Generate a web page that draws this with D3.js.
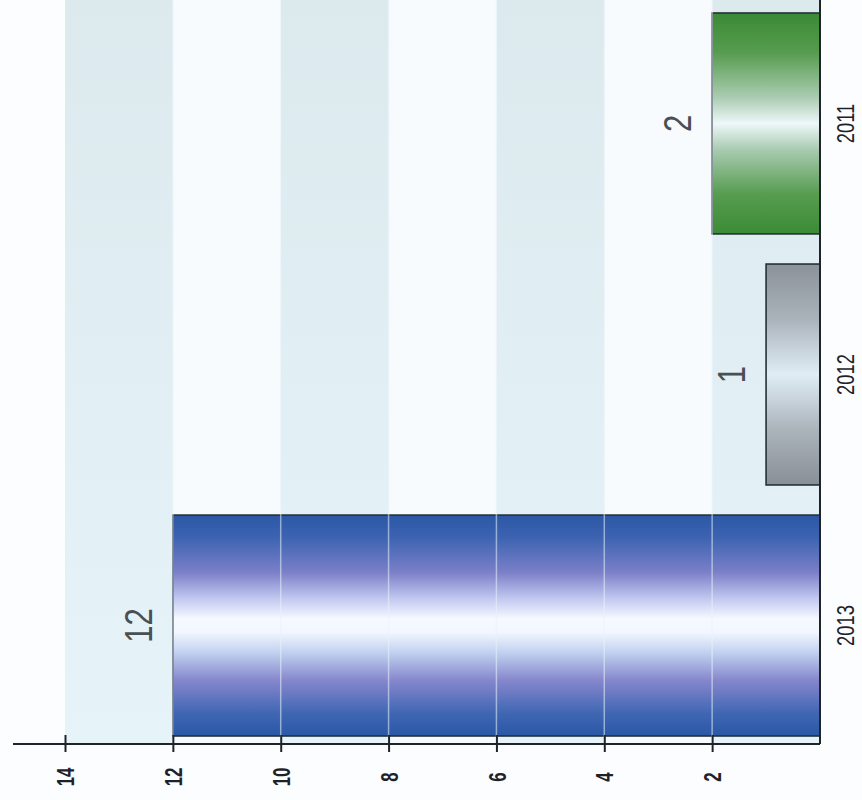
<!DOCTYPE html>
<html>
<head>
<meta charset="utf-8">
<script src="https://cdn.jsdelivr.net/npm/d3@7/dist/d3.min.js"></script>
<style>
  html, body { margin: 0; padding: 0; background: #fbfdfe; }
  svg { display: block; }
</style>
</head>
<body>
<svg id="chart" width="862" height="800"></svg>
<script>
// ---- data ----
const categories = ["2013", "2012", "2011"];
const values = [12, 1, 2];
const tickValues = [2, 4, 6, 8, 10, 12, 14];
const valueLabels = ["12", "1", "2"];

// ---- styles ----
const gradients = {
  "2013": [[0, "#2b58a6"], [0.1, "#3c63b1"], [0.26, "#7c80c8"], [0.38, "#c3c9f0"], [0.47, "#f6f9ff"], [0.53, "#f2f7ff"], [0.62, "#c2d2f0"], [0.75, "#8486cc"], [0.9, "#3f66b3"], [1, "#2a57a4"]],
  "2012": [[0, "#8b9299"], [0.25, "#aab3bb"], [0.5, "#e0edf5"], [0.75, "#abb3bb"], [1, "#888f97"]],
  "2011": [[0, "#3a8a34"], [0.18, "#579c50"], [0.38, "#a9cbb0"], [0.5, "#eef7f9"], [0.62, "#a8cab0"], [0.82, "#579c50"], [1, "#3b8b35"]]
};

const svg = d3.select("#chart");
const axisY = 744;
const x = d3.scaleLinear().domain([0, 14]).range([820, 65]);
const y = d3.scaleBand().domain(categories).range([736, 13]).paddingInner(0.12);

const defs = svg.append("defs");
categories.forEach(c => {
  const g = defs.append("linearGradient").attr("id", "g" + c)
    .attr("x1", 0).attr("y1", 0).attr("x2", 0).attr("y2", 1);
  gradients[c].forEach(s => g.append("stop").attr("offset", s[0]).attr("stop-color", s[1]));
});
const bandGrad = defs.append("linearGradient").attr("id", "band")
  .attr("x1", 0).attr("y1", 0).attr("x2", 0).attr("y2", 1);
bandGrad.append("stop").attr("offset", 0).attr("stop-color", "#dce9ed");
bandGrad.append("stop").attr("offset", 1).attr("stop-color", "#e6f3f9");

// background stripes between ticks
const stripeEdges = [0].concat(tickValues);
const stripes = d3.pairs(stripeEdges).map((p, i) => ({ a: p[0], b: p[1], i }));
svg.append("g").selectAll("rect").data(stripes).join("rect")
  .attr("x", d => x(d.b))
  .attr("y", 0)
  .attr("width", d => x(d.a) - x(d.b))
  .attr("height", axisY)
  .attr("fill", d => d.i % 2 === 0 ? "url(#band)" : "#f8fbfd");

// bars
svg.append("g").selectAll("rect").data(categories).join("rect")
  .attr("x", (c, i) => x(values[i]))
  .attr("y", c => y(c))
  .attr("width", (c, i) => x(0) - x(values[i]))
  .attr("height", y.bandwidth())
  .attr("fill", c => "url(#g" + c + ")")
  .attr("stroke", "#25303a")
  .attr("stroke-width", 1.6);

// grid lines over bars
svg.append("g").selectAll("line").data(tickValues.filter(v => v < 14)).join("line")
  .attr("x1", d => x(d)).attr("x2", d => x(d))
  .attr("y1", 0).attr("y2", axisY)
  .attr("stroke", "#e8f2fb").attr("stroke-opacity", 0.55).attr("stroke-width", 1.5);

// value labels
svg.append("g").selectAll("text").data(categories).join("text")
  .attr("transform", (c, i) => `translate(${x(values[i]) - 34},${y(c) + y.bandwidth() / 2}) rotate(-90) scale(0.82,1)`)
  .attr("text-anchor", "middle")
  .attr("dominant-baseline", "central")
  .attr("font-family", "Liberation Sans, Arial, sans-serif")
  .attr("font-size", 38)
  .attr("fill", "#4a4f55")
  .text((c, i) => valueLabels[i]);

// category labels
svg.append("g").selectAll("text").data(categories).join("text")
  .attr("transform", c => `translate(846,${y(c) + y.bandwidth() / 2}) rotate(-90) scale(0.8,1)`)
  .attr("text-anchor", "middle")
  .attr("dominant-baseline", "central")
  .attr("font-family", "Liberation Sans, Arial, sans-serif")
  .attr("font-size", 23)
  .attr("fill", "#1e2228")
  .text(c => c);

// category axis line (value 0)
svg.append("line")
  .attr("x1", x(0)).attr("x2", x(0))
  .attr("y1", 0).attr("y2", axisY)
  .attr("stroke", "#1f2429").attr("stroke-width", 2);

// value axis
const axis = d3.axisBottom(x).tickValues(tickValues).tickSize(8).tickFormat(d3.format("d"));
const ax = svg.append("g").attr("transform", `translate(0,${axisY})`).call(axis);
ax.select(".domain").remove();
ax.append("line").attr("x1", 13).attr("x2", x(0)).attr("y1", 0).attr("y2", 0)
  .attr("stroke", "#1f2429").attr("stroke-width", 2.2);
ax.selectAll(".tick line").attr("y1", -9).attr("y2", 8)
  .attr("stroke", "#1f2429").attr("stroke-width", 2);
ax.selectAll(".tick text")
  .attr("y", null).attr("dy", null)
  .attr("transform", "translate(0,33) rotate(-90) scale(0.7,1)")
  .attr("text-anchor", "middle")
  .attr("dominant-baseline", "central")
  .attr("font-family", "Liberation Sans, Arial, sans-serif")
  .attr("font-size", 24)
  .attr("font-weight", "bold")
  .attr("fill", "#1e2228");
</script>
</body>
</html>
